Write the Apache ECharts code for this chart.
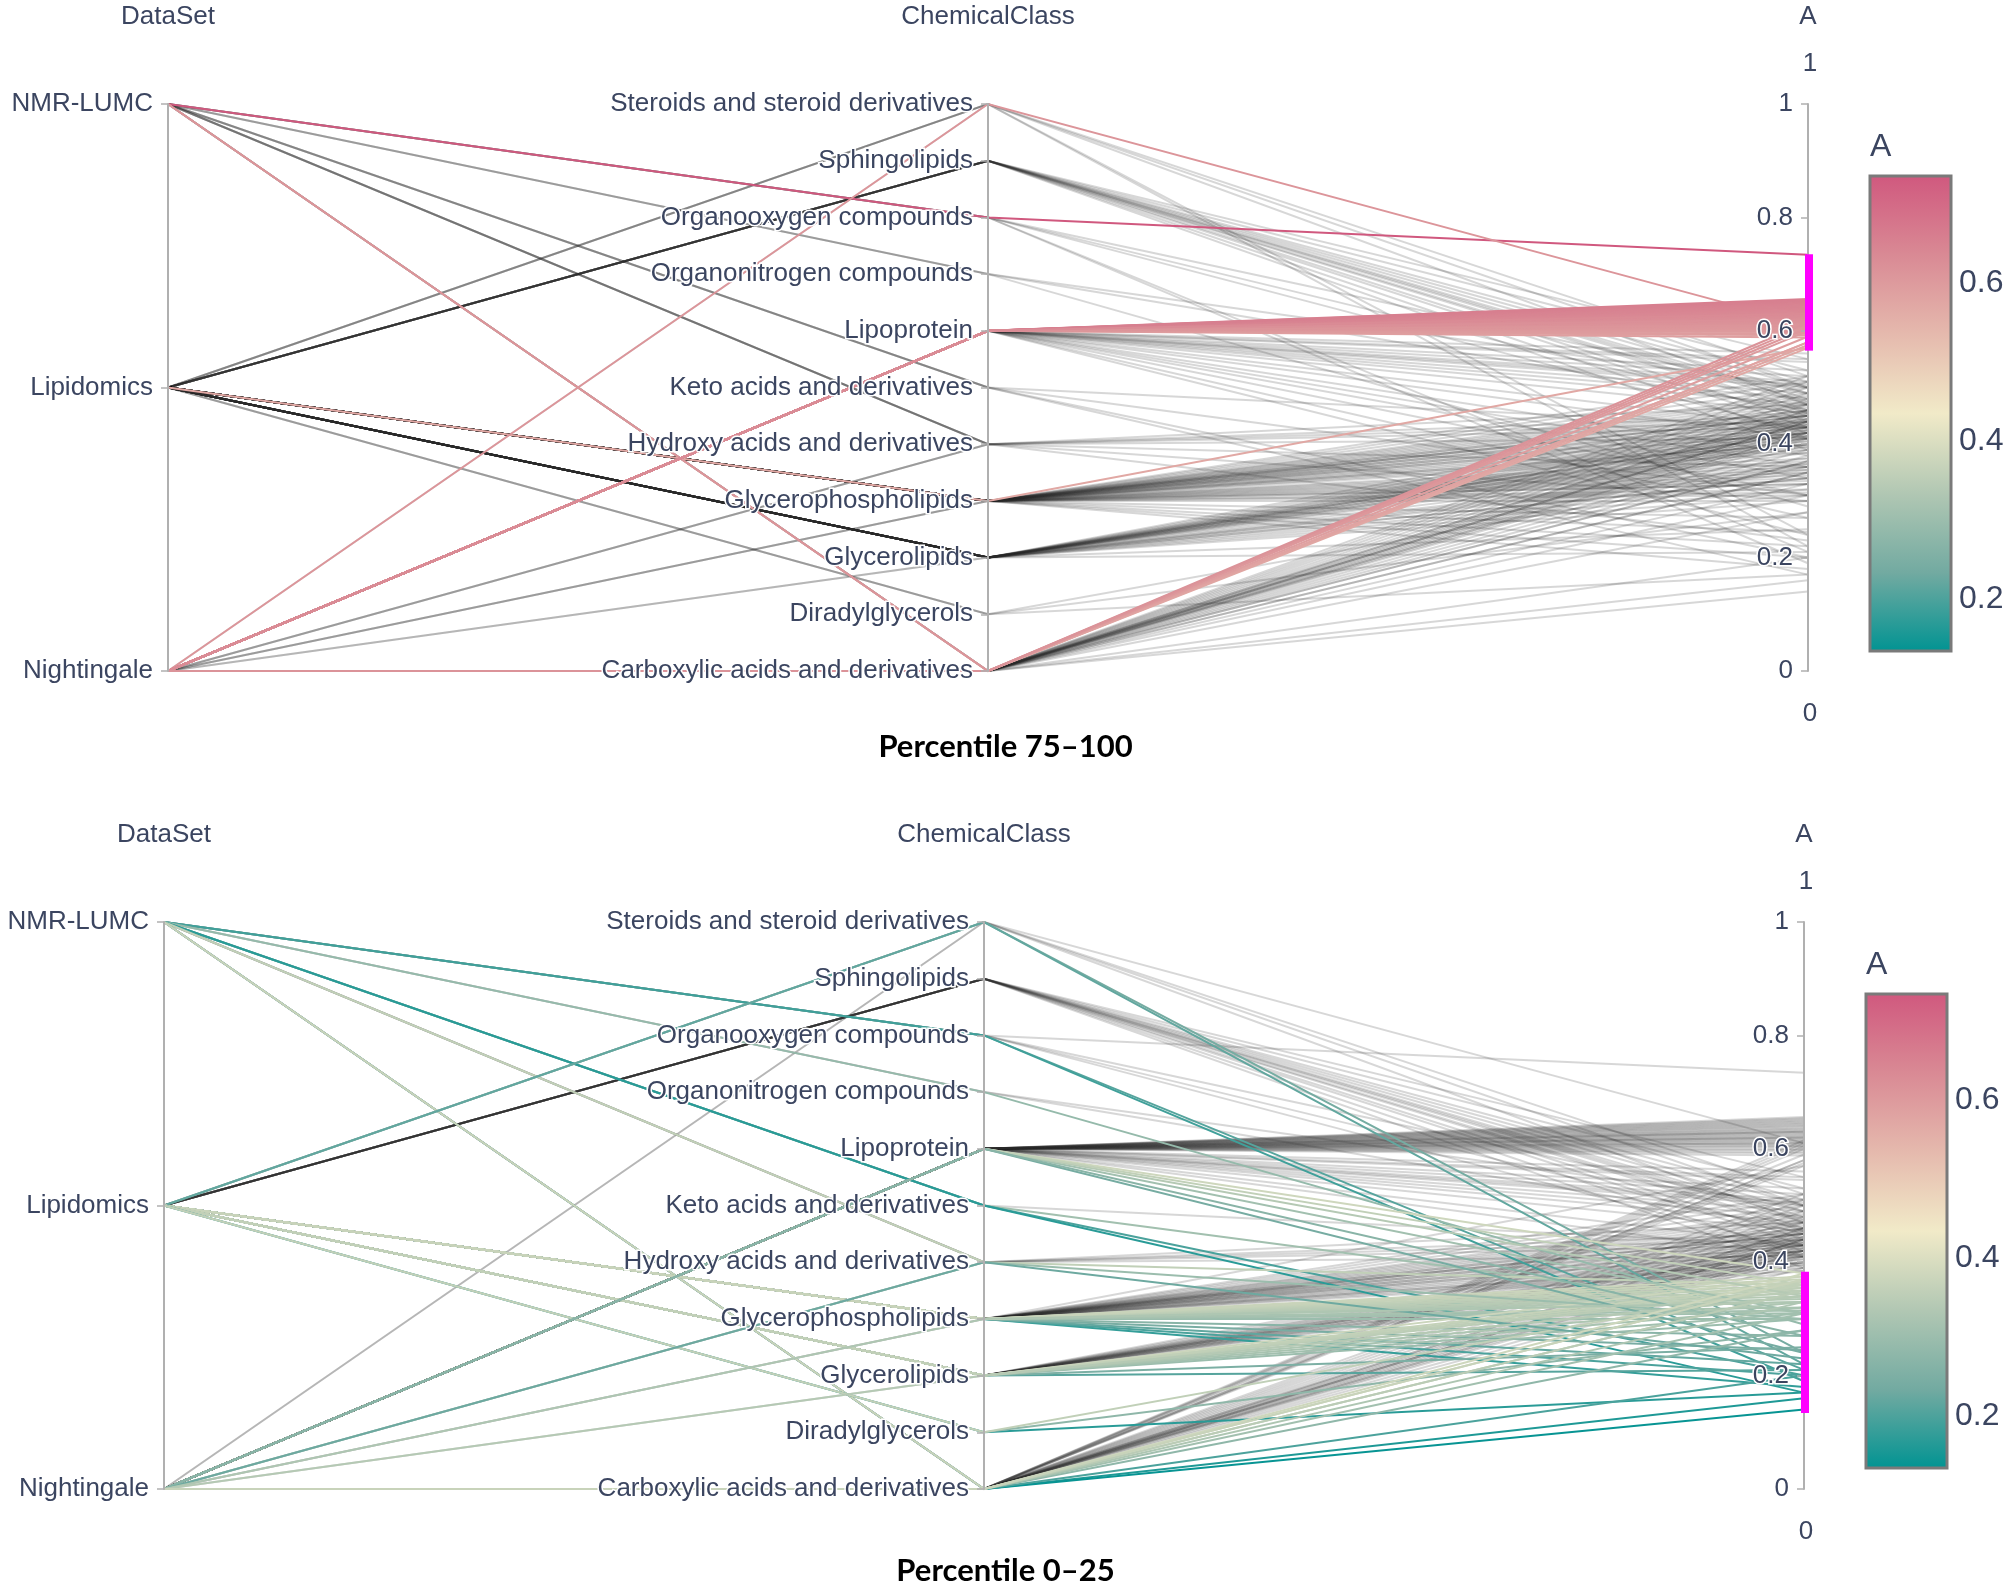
<!DOCTYPE html>
<html>
<head>
<meta charset="utf-8">
<script src="https://cdn.jsdelivr.net/npm/echarts@6.0.0/dist/echarts.min.js"></script>
<style>
html,body{margin:0;padding:0;background:#fff;}
#c{width:2011px;height:1593px;}
</style>
</head>
<body>
<div id="c"></div>
<script>
// ---------------- data ----------------
const dataSets = ['NMR-LUMC', 'Lipidomics', 'Nightingale'];
const chemicalClasses = [
  'Steroids and steroid derivatives', 'Sphingolipids', 'Organooxygen compounds',
  'Organonitrogen compounds', 'Lipoprotein', 'Keto acids and derivatives',
  'Hydroxy acids and derivatives', 'Glycerophospholipids', 'Glycerolipids',
  'Diradylglycerols', 'Carboxylic acids and derivatives'
];
const aTicks = [0, 0.2, 0.4, 0.6, 0.8, 1];
const colorbarTicks = [0.2, 0.4, 0.6];
const colorScale = ['rgb(0,147,146)', 'rgb(114,170,161)', 'rgb(177,199,179)', 'rgb(241,234,200)',
                    'rgb(229,185,173)', 'rgb(217,137,148)', 'rgb(208,88,126)'];
const colorRange = [0.134, 0.735];
const topBrush = [0.565, 0.735];
const bottomBrush = [0.134, 0.383];
const panelTitles = ['Percentile 75\u2013100', 'Percentile 0\u201325'];

// metabolites per data set: [ChemicalClass, A values]
const nmrLumc = [
  ['Organooxygen compounds', [0.49, 0.45, 0.42, 0.21, 0.19, 0.734]],
  ['Organonitrogen compounds', [0.5, 0.46, 0.29]],
  ['Keto acids and derivatives', [0.43, 0.31, 0.2, 0.17]],
  ['Hydroxy acids and derivatives', [0.47, 0.45, 0.43, 0.41, 0.36]],
  ['Carboxylic acids and derivatives', [0.46, 0.44, 0.42, 0.16, 0.35, 0.37, 0.58, 0.61]]
];
const lipidomics = [
  ['Steroids and steroid derivatives', [0.47, 0.52, 0.24, 0.22]],
  ['Sphingolipids', [0.41, 0.43, 0.44, 0.455, 0.46, 0.47, 0.475, 0.48, 0.49, 0.5, 0.51, 0.53, 0.55, 0.39]],
  ['Glycerophospholipids', [
    0.385, 0.39, 0.395, 0.4, 0.405, 0.41, 0.415, 0.42, 0.425, 0.43, 0.435, 0.44, 0.445, 0.45, 0.455,
    0.46, 0.465, 0.47, 0.475, 0.48, 0.485, 0.49, 0.5, 0.51, 0.52, 0.43, 0.44, 0.45, 0.42, 0.46,
    0.18, 0.2, 0.22, 0.245, 0.27,
    0.3, 0.31, 0.315, 0.32, 0.33, 0.335, 0.34, 0.345, 0.35, 0.355, 0.36, 0.365, 0.375, 0.37,
    0.57]],
  ['Glycerolipids', [
    0.385, 0.39, 0.395, 0.4, 0.405, 0.41, 0.415, 0.42, 0.425, 0.43, 0.435, 0.44, 0.445, 0.45, 0.46,
    0.47, 0.4, 0.41, 0.42, 0.43,
    0.21, 0.25,
    0.3, 0.31, 0.32, 0.33, 0.34, 0.35, 0.355, 0.365, 0.375, 0.36]],
  ['Diradylglycerols', [0.17, 0.28, 0.36]]
];
const nightingale = [
  ['Steroids and steroid derivatives', [0.5, 0.61]],
  ['Lipoprotein', [
    0.38, 0.41, 0.43, 0.455, 0.47, 0.48, 0.49, 0.5, 0.505, 0.51, 0.52, 0.53, 0.545, 0.55, 0.56,
    0.31, 0.34, 0.36, 0.24, 0.27,
    0.588, 0.592, 0.595, 0.598, 0.6, 0.603, 0.605, 0.607, 0.61, 0.612, 0.614, 0.616, 0.618, 0.62,
    0.622, 0.624, 0.626, 0.628, 0.63, 0.632, 0.634, 0.636, 0.638, 0.64, 0.642, 0.644, 0.646, 0.648,
    0.65, 0.652, 0.654, 0.656, 0.62, 0.61, 0.63]],
  ['Hydroxy acids and derivatives', [0.44, 0.3, 0.23]],
  ['Glycerophospholipids', [0.45, 0.4, 0.33]],
  ['Glycerolipids', [0.42, 0.34]],
  ['Carboxylic acids and derivatives', [
    0.39, 0.4, 0.41, 0.415, 0.42, 0.425, 0.43, 0.435, 0.44, 0.445, 0.45, 0.455, 0.46, 0.47, 0.48,
    0.49, 0.5, 0.51, 0.52, 0.44,
    0.14, 0.2,
    0.28, 0.31, 0.33, 0.35, 0.38, 0.37,
    0.57, 0.575, 0.58, 0.59, 0.6, 0.605, 0.615]]
];

// ---------------- build ----------------
const rows = [];
[['NMR-LUMC', nmrLumc], ['Lipidomics', lipidomics], ['Nightingale', nightingale]].forEach(function (d) {
  d[1].forEach(function (g) { g[1].forEach(function (v) { rows.push([d[0], g[0], v]); }); });
});

const FONT = 'Liberation Sans';
const TXT = '#3b4560';
const AXC = '#b0b0b0';
const CONTEXT_COLOR = 'rgba(40,40,40,0.19)';

const panels = [
  { left: 168, top: 104, width: 1640, height: 567, brush: topBrush, title: panelTitles[0], titleY: 750,
    cbar: { x: 1870, y: 176, w: 81, h: 475 } },
  { left: 164, top: 922, width: 1640, height: 567, brush: bottomBrush, title: panelTitles[1], titleY: 1574,
    cbar: { x: 1866, y: 994, w: 81, h: 474 } }
];

const parallel = [], parallelAxis = [], series = [], visualMap = [], title = [], graphic = [];
const aMin = aTicks[0], aMax = aTicks[aTicks.length - 1];

panels.forEach(function (p, pi) {
  parallel.push({ left: p.left, top: p.top, width: p.width, height: p.height, layout: 'horizontal' });
  const common = {
    parallelIndex: pi,
    nameLocation: 'end',
    nameGap: 74,
    nameTextStyle: { color: TXT, fontSize: 26, fontFamily: FONT },
    axisLine: { lineStyle: { color: AXC, width: 2 } },
    axisTick: { show: true, length: -7, lineStyle: { color: AXC, width: 1.5 } },
    axisLabel: { margin: -15, align: 'right', color: TXT, fontSize: 26, fontFamily: FONT,
                 textBorderColor: '#fff', textBorderWidth: 3, interval: 0 },
    splitLine: { show: false },
    z: 5
  };
  parallelAxis.push(Object.assign({}, common, { dim: 0, name: 'DataSet', type: 'category',
    data: dataSets.slice().reverse(), boundaryGap: false }));
  parallelAxis.push(Object.assign({}, common, { dim: 1, name: 'ChemicalClass', type: 'category',
    data: chemicalClasses.slice().reverse(), boundaryGap: false }));
  parallelAxis.push(Object.assign({}, common, { dim: 2, id: 'axisA' + pi, name: 'A', type: 'value',
    min: aMin, max: aMax, interval: aTicks[1] - aTicks[0] }));

  const inR = function (r) { return r[2] >= p.brush[0] && r[2] <= p.brush[1]; };
  const ordered = rows.filter(function (r) { return !inR(r); }).concat(rows.filter(inR));
  series.push({
    type: 'parallel', parallelIndex: pi, data: ordered, silent: true, smooth: false,
    lineStyle: { width: 2, opacity: 1 },
    emphasis: { disabled: true }, z: 2
  });
  visualMap.push({
    type: 'continuous', show: false, seriesIndex: pi, dimension: 2,
    min: colorRange[0], max: colorRange[1], range: p.brush.slice(),
    inRange: { color: colorScale },
    outOfRange: { color: CONTEXT_COLOR }
  });
  title.push({ text: p.title, left: 'center', top: p.titleY - 19, padding: 0,
    textStyle: { fontFamily: 'Lato', fontWeight: 'bold', fontSize: 31, color: '#000' } });

  const ax = p.left + p.width;
  // brushed range on the A axis
  const yHi = p.top + (aMax - p.brush[1]) / (aMax - aMin) * p.height;
  const yLo = p.top + (aMax - p.brush[0]) / (aMax - aMin) * p.height;
  graphic.push({ type: 'rect', z: 100, shape: { x: ax - 3, y: yHi, width: 8, height: yLo - yHi },
    style: { fill: '#ff00ff' } });
  // range labels above/below the A axis
  graphic.push({ type: 'text', x: ax + 2, y: p.top - 40, style: { text: String(aMax),
    fontSize: 26, fontFamily: FONT, fill: TXT, align: 'center', verticalAlign: 'middle' } });
  graphic.push({ type: 'text', x: ax + 2, y: p.top + p.height + 43, style: { text: String(aMin),
    fontSize: 26, fontFamily: FONT, fill: TXT, align: 'center', verticalAlign: 'middle' } });

  // colorbar
  const c = p.cbar;
  graphic.push({ type: 'rect', shape: { x: c.x, y: c.y, width: c.w, height: c.h },
    style: { fill: { type: 'linear', x: 0, y: 1, x2: 0, y2: 0,
      colorStops: colorScale.map(function (col, i) { return { offset: i / (colorScale.length - 1), color: col }; }) },
      stroke: '#7a7a7a', lineWidth: 3 } });
  graphic.push({ type: 'text', x: c.x, y: c.y - 29, style: { text: 'A', fontSize: 32, fontFamily: FONT,
    fill: TXT, align: 'left', verticalAlign: 'middle' } });
  colorbarTicks.forEach(function (v) {
    const y = c.y + (colorRange[1] - v) / (colorRange[1] - colorRange[0]) * c.h;
    graphic.push({ type: 'text', x: c.x + c.w + 8, y: y, style: { text: String(v), fontSize: 32,
      fontFamily: FONT, fill: TXT, align: 'left', verticalAlign: 'middle' } });
  });
});

const chart = echarts.init(document.getElementById('c'), null, { renderer: 'canvas', width: 2011, height: 1593 });
chart.setOption({
  animation: false,
  backgroundColor: '#fff',
  title: title,
  parallel: parallel,
  parallelAxis: parallelAxis,
  visualMap: visualMap,
  series: series,
  graphic: graphic
});
</script>
</body>
</html>
